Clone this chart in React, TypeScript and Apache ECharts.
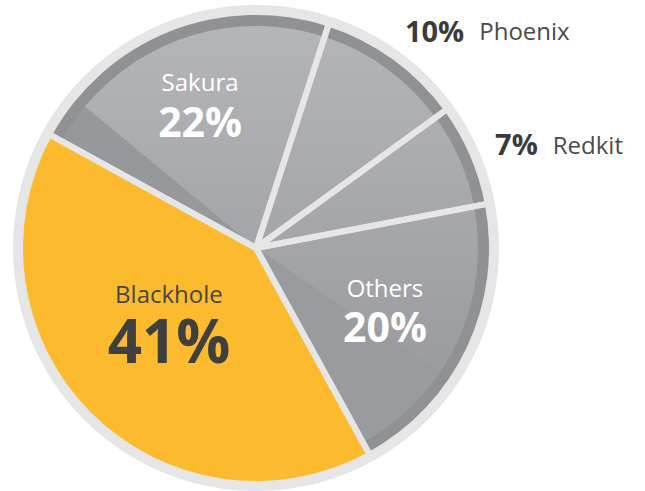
import React, { useEffect, useRef } from "react";
import * as echarts from "echarts";

// Data (clockwise from the Phoenix slice)
const names = ["Phoenix", "Redkit", "Others", "Blackhole", "Sakura"];
const values = [10, 7, 20, 41, 22];
const highlightName = "Blackhole";
// shaded wedge portions inside slices (in percent units)
const sakuraLeadShade = 3;
const othersTrailShade = 7.5;

const CX = 256;
const CY = 248;
const START = 72;

const ringColor = "#e5e5e5";
const bandColor = "#909195";
const yellow = "#fcbb2f";
const lightFill = {
  type: "linear",
  x: 0,
  y: 15,
  x2: 0,
  y2: 480,
  global: true,
  colorStops: [
    { offset: 0, color: "#b5b6b9" },
    { offset: 1, color: "#939498" },
  ],
};

// label placement: [radial distance, angle nudge in degrees, outside?]
const labelPlace: Record<string, [number, number, boolean]> = {
  Phoenix: [265.7, -1.9, true],
  Redkit: [261.9, -0.7, true],
  Others: [143.3, 0.65, false],
  Blackhole: [115.5, 3.9, false],
  Sakura: [154, 0.3, false],
};

const total = values.reduce((a, b) => a + b, 0);
const startCw = 90 - START; // clockwise degrees from 12 o'clock
const midAngles: number[] = [];
{
  let acc = 0;
  values.forEach((v) => {
    midAngles.push(startCw + ((acc + v / 2) / total) * 360);
    acc += v;
  });
}

export default function App() {
  const ref = useRef<HTMLDivElement>(null);
  useEffect(() => {
    document.body.style.margin = "0";
    const chart = echarts.init(ref.current!, null, { renderer: "svg" });

    const baseData = names.map((n, i) => ({
      name: n,
      value: values[i],
      itemStyle: { color: n === highlightName ? yellow : bandColor },
    }));

    const fillData: any[] = [];
    names.forEach((n, i) => {
      const v = values[i];
      if (n === highlightName) {
        fillData.push({ name: n, value: v, itemStyle: { color: "rgba(0,0,0,0)" } });
      } else if (n === "Sakura") {
        fillData.push({ name: n + "-s", value: sakuraLeadShade, itemStyle: { color: "#97989c" } });
        fillData.push({ name: n, value: v - sakuraLeadShade, itemStyle: { color: lightFill } });
      } else if (n === "Others") {
        fillData.push({ name: n, value: v - othersTrailShade, itemStyle: { color: lightFill } });
        fillData.push({ name: n + "-s", value: othersTrailShade, itemStyle: { color: "#9a9b9f" } });
      } else {
        fillData.push({ name: n, value: v, itemStyle: { color: lightFill } });
      }
    });

    const font = "'Open Sans', 'Noto Sans', sans-serif";
    const labelData = names.map((n, i) => {
      const pct = `${values[i]}%`;
      const outside = labelPlace[n][2];
      const isHi = n === highlightName;
      const light = !outside && !isHi;
      return {
        name: n,
        value: values[i],
        label: {
          show: true,
          formatter: outside ? `{b|${pct}}{n|${n}}` : `{n|${n}}\n{b|${pct}}`,
          rich: outside
            ? {
                b: { fontFamily: font, fontWeight: "bold", fontSize: 29, color: "#3b3b3b", lineHeight: 34, verticalAlign: "bottom" },
                n: { fontFamily: font, fontSize: 24, color: "#4b4b4b", padding: [0, 0, 2, 15], lineHeight: 34, verticalAlign: "bottom" },
              }
            : {
                n: { fontFamily: font, fontSize: 24, color: light ? "#ffffff" : "#474747", lineHeight: 32, align: "center" },
                b: {
                  fontFamily: font,
                  fontWeight: "bold",
                  fontSize: isHi ? 60 : 41,
                  color: light ? "#ffffff" : "#3f3f3f",
                  lineHeight: isHi ? 60 : 46,
                  align: "center",
                },
              },
        },
      };
    });

    chart.setOption({
      animation: false,
      series: [
        {
          type: "pie",
          silent: true,
          center: [CX, CY],
          radius: [0, 243],
          label: { show: false },
          data: [{ value: 1, itemStyle: { color: ringColor } }],
        },
        {
          type: "pie",
          silent: true,
          center: [CX, CY],
          radius: [0, 233],
          startAngle: START,
          label: { show: false },
          data: baseData,
        },
        {
          type: "pie",
          silent: true,
          center: [CX, CY],
          radius: [0, 222],
          startAngle: START,
          label: { show: false },
          data: fillData,
        },
        {
          type: "pie",
          silent: true,
          center: [CX, CY],
          radius: [0, 238],
          startAngle: START,
          avoidLabelOverlap: false,
          itemStyle: { color: "rgba(0,0,0,0)", borderColor: "#e6e6e6", borderWidth: 6 },
          label: { show: true, position: "inside" },
          labelLine: { show: false },
          labelLayout: (p: any) => {
            const n = names[p.dataIndex];
            const [d, nudge, outside] = labelPlace[n];
            const a = ((midAngles[p.dataIndex] + nudge) * Math.PI) / 180;
            return {
              x: CX + d * Math.sin(a),
              y: CY - d * Math.cos(a),
              align: outside ? "left" : "center",
              verticalAlign: "middle",
            };
          },
          data: labelData,
        },
      ],
    });
    return () => chart.dispose();
  }, []);
  return <div ref={ref} style={{ width: 645, height: 491 }} />;
}
